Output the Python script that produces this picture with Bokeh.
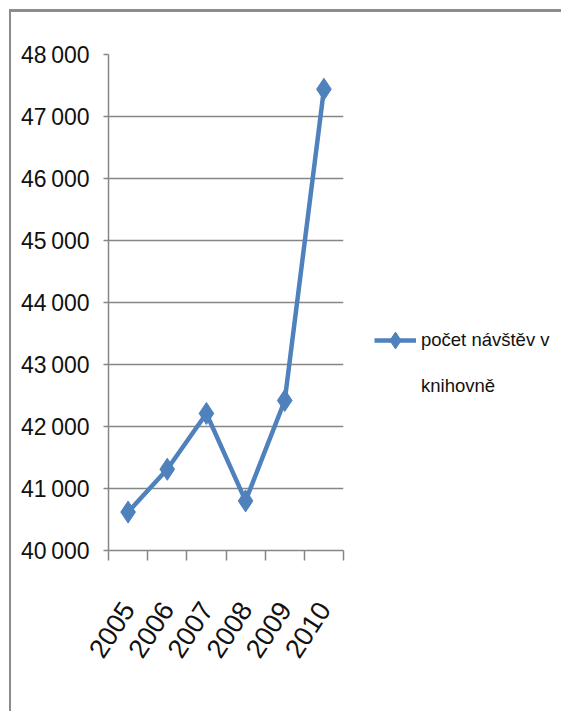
import math
from bokeh.plotting import figure
from bokeh.models import Range1d, FixedTicker, Legend, LegendItem, ColumnDataSource
from bokeh.embed import file_html
from bokeh.resources import INLINE

years = ["2005", "2006", "2007", "2008", "2009", "2010"]
visits = [40620, 41310, 42210, 40800, 42420, 47440]
y_ticks = [40000, 41000, 42000, 43000, 44000, 45000, 46000, 47000, 48000]
series_name_lines = ["počet návštěv v", "knihovně"]

FONT = "'Liberation Sans Narrow', 'Liberation Sans', sans-serif"
BLUE = "#4f81bd"
GRAY = "#868686"

x_pos = [i + 0.5 for i in range(len(years))]
src = ColumnDataSource(dict(x=x_pos, y=visits, year=years))

p = figure(frame_width=235, frame_height=496, output_backend="svg", toolbar_location=None,
           x_range=Range1d(0, len(years)), y_range=Range1d(y_ticks[0], y_ticks[-1]),
           min_border_left=97, min_border_right=10, min_border_top=42, min_border_bottom=161)
p.styles = {"border-top": "3px solid #8c8c8c", "border-left": "2px solid #8c8c8c",
            "margin-left": "9px", "margin-top": "9px"}
p.outline_line_color = None
p.background_fill_color = "white"
p.border_fill_color = "white"

r_line = p.line("x", "y", source=src, line_color=BLUE, line_width=4.5)
r_mark = p.scatter("x", "y", source=src, marker="diamond", size=22,
                   fill_color=BLUE, line_color=BLUE)

# x axis
xa = p.xaxis[0]
xa.ticker = FixedTicker(ticks=x_pos, minor_ticks=list(range(len(years) + 1)))
xa.major_label_overrides = {x: y for x, y in zip(x_pos, years)}
xa.major_tick_out = 0
xa.major_tick_in = 0
xa.minor_tick_out = 10
xa.minor_tick_in = 0
xa.minor_tick_line_color = GRAY
xa.minor_tick_line_width = 1.5
xa.axis_line_color = GRAY
xa.axis_line_width = 1.5
xa.major_label_orientation = math.radians(57)
xa.major_label_standoff = 44
xa.major_label_text_font = FONT
xa.major_label_text_font_size = "27px"
xa.major_label_text_color = "#111111"

# y axis
ya = p.yaxis[0]
ya.ticker = FixedTicker(ticks=y_ticks)
ya.major_label_overrides = {v: f"{v:,}".replace(",", "\u2009") for v in y_ticks}
ya.major_tick_out = 5
ya.major_tick_in = 0
ya.minor_tick_out = 0
ya.minor_tick_in = 0
ya.major_tick_line_color = GRAY
ya.major_tick_line_width = 1.5
ya.axis_line_color = GRAY
ya.axis_line_width = 1.5
ya.major_label_standoff = 14
ya.major_label_text_font = FONT
ya.major_label_text_font_size = "23px"
ya.major_label_text_color = "#111111"

p.xgrid.visible = False
p.ygrid.ticker = FixedTicker(ticks=y_ticks)
p.ygrid.grid_line_color = GRAY
p.ygrid.grid_line_width = 1.5

legend = Legend(items=[LegendItem(label=series_name_lines[0], renderers=[r_line, r_mark]),
                       LegendItem(label=series_name_lines[1], renderers=[])],
                location=(31, 141), orientation="vertical")
legend.border_line_color = None
legend.background_fill_alpha = 0
legend.padding = 0
legend.margin = 0
legend.spacing = 0
legend.glyph_width = 42
legend.glyph_height = 46
legend.label_height = 24
legend.label_standoff = 5
legend.label_text_font = FONT
legend.label_text_font_size = "18.5px"
legend.label_text_color = "#111111"
p.add_layout(legend, "right")

open("out.html", "w").write(file_html(p, INLINE))
